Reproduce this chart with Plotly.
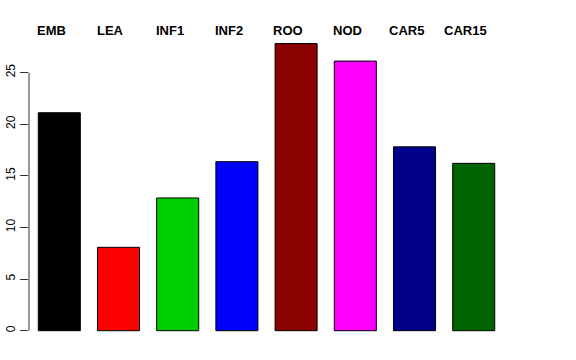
import plotly.graph_objects as go

categories = ["EMB", "LEA", "INF1", "INF2", "ROO", "NOD", "CAR5", "CAR15"]
values = [21.1, 8.07, 12.85, 16.36, 27.8, 26.1, 17.8, 16.2]
colors = ["#000000", "#FF0000", "#00CD00", "#0000FF", "#8B0000", "#FF00FF", "#00008B", "#006400"]
tick_vals = [0, 5, 10, 15, 20, 25]

W, H = 576, 360
ml, mr, mt, mb = 29, 47, 20, 20
px_per_cat = 59.2
first_center = 59.3
x0 = -(first_center - ml) / px_per_cat
x1 = x0 + (W - ml - mr) / px_per_cat
px_per_unit = 10.33
zero_px = 330.7
y_lo = -(H - mb - zero_px) / px_per_unit
y_hi = (zero_px - mt) / px_per_unit

fig = go.Figure(go.Bar(
    x=categories, y=values,
    marker=dict(color=colors, line=dict(color="#000000", width=1)),
    width=0.71,
))

for c in categories:
    fig.add_annotation(
        x=c, xref="x", y=1 - (30 - mt) / (H - mt - mb), yref="paper",
        text=f"<b>{c}</b>", showarrow=False, xshift=-8,
        xanchor="center", yanchor="middle",
        font=dict(family="Liberation Sans, Arial, sans-serif", size=13, color="#000000"),
    )

fig.add_shape(type="line", xref="paper", yref="y", x0=0, x1=0,
              y0=tick_vals[0], y1=tick_vals[-1],
              line=dict(color="#333333", width=1))

fig.update_layout(
    width=W, height=H,
    margin=dict(l=ml, r=mr, t=mt, b=mb),
    paper_bgcolor="white", plot_bgcolor="white",
    showlegend=False,
    xaxis=dict(range=[x0, x1], showticklabels=False, showgrid=False,
               zeroline=False, showline=False, ticks="", automargin=False),
    yaxis=dict(range=[y_lo, y_hi], tickvals=tick_vals, ticks="outside",
               ticklen=8, tickcolor="#333333", tickwidth=1,
               showgrid=False, zeroline=False, showline=False,
               tickangle=-90, automargin=False,
               tickfont=dict(family="Liberation Sans, Arial, sans-serif", size=12, color="#000000")),
)

fig.write_html("out.html", config={"displayModeBar": False},
               post_script="document.body.style.margin='0';document.body.style.overflow='hidden';")
